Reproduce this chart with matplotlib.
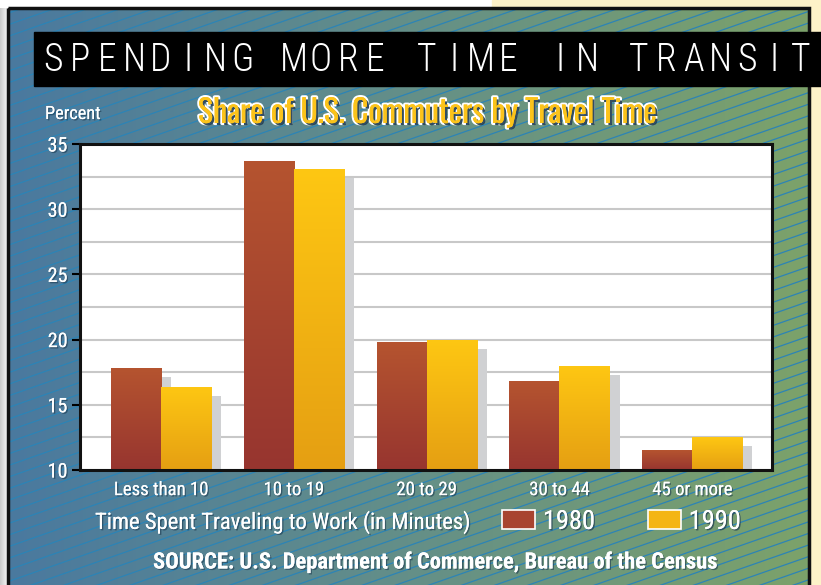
import numpy as np
import matplotlib
matplotlib.use("Agg")
import matplotlib.pyplot as plt
import matplotlib.patheffects as pe
from matplotlib.colors import LinearSegmentedColormap
from matplotlib.patches import Rectangle
import logging
logging.getLogger("matplotlib.font_manager").setLevel(logging.ERROR)

COND = ['Roboto Condensed', 'Archivo Narrow', 'PT Sans Narrow', 'Barlow Condensed',
        'Sofia Sans Condensed', 'Sofia Sans Semi Condensed', 'DejaVu Sans']
TIGHT = ['Oswald', 'Antonio', 'Fjalla One', 'League Gothic', 'Roboto Condensed',
         'Sofia Sans Semi Condensed', 'DejaVu Sans']
plt.rcParams['font.family'] = COND

# data
categories = ["Less than 10", "10 to 19", "20 to 29", "30 to 44", "45 or more"]
share_1980 = [17.8, 33.7, 19.8, 16.8, 11.5]
share_1990 = [16.4, 33.1, 20.0, 18.0, 12.5]
years = ["1980", "1990"]
y_ticks = [10, 15, 20, 25, 30, 35]

W, H = 821, 585
fig = plt.figure(figsize=(W / 100, H / 100), dpi=100)

# background: page, panel gradient and stripes
bg = fig.add_axes([0, 0, 1, 1])
bg.axis("off")
bg.add_patch(Rectangle((0, 0), W, H, color="white", zorder=0))
bg.add_patch(Rectangle((492, 0), W - 492, H, color="#fdf2c8", zorder=0))
shade = np.linspace(0.80, 0.97, 8)[None, :, None] * np.ones((1, 1, 3))
bg.imshow(shade, extent=(0, 8, H, 8), aspect="auto", zorder=0.5)
panel_cmap = LinearSegmentedColormap.from_list("panel", ["#4a799f", "#648f88", "#7ca26a"])
bg.imshow(np.linspace(0, 1, 256)[None, :], cmap=panel_cmap, extent=(8, 809, H, 8),
          aspect="auto", zorder=1)
panel = Rectangle((8, 8), 801, H, fill=False, ec="#111111", lw=2.5, zorder=2)
bg.add_patch(panel)
xs = np.array([8, 809])
for c in np.arange(-300, 900, 11.6):
    ln, = bg.plot(xs, c - 0.35 * (xs - 8), color="#2c84b6", lw=0.9, zorder=1.5,
                  solid_capstyle="butt")
    ln.set_clip_path(panel)
bg.set_xlim(0, W)
bg.set_ylim(H, 0)

# title bar
bg.add_patch(Rectangle((34, 32), W, 54, color="black", zorder=3))
title = "SPENDING MORE TIME IN TRANSIT"
x = 53
for ch in title:
    if ch == " ":
        x += 25
        continue
    bg.text(x, 60, ch, color="white", fontsize=27, fontweight="light", va="center",
            ha="center", zorder=4, fontfamily=COND)
    x += 27

fx_small = [pe.withSimplePatchShadow(offset=(1, -1), shadow_rgbFace="#1d3a50", alpha=0.6), pe.Normal()]
sub = bg.text(427, 113, "Share of U.S. Commuters by Travel Time", color="#fbc31b", fontsize=24,
              fontweight="bold", ha="center", va="center", zorder=4, fontfamily=TIGHT,
              path_effects=[pe.withStroke(linewidth=3, foreground="white"),
                            pe.withSimplePatchShadow(offset=(1.5, -1.5), shadow_rgbFace="#1d3a50", alpha=0.9),
                            pe.Normal()])
pct = bg.text(45, 114, "Percent", color="white", fontsize=14, ha="left", va="center",
              zorder=4, path_effects=fx_small)
xlab = bg.text(95, 522, "Time Spent Traveling to Work (in Minutes)", color="white", fontsize=17,
               ha="left", va="center", zorder=4, path_effects=fx_small)
src = bg.text(153, 562, "SOURCE: U.S. Department of Commerce, Bureau of the Census", color="white",
              fontsize=14, fontweight="bold", ha="left", va="center", zorder=4, path_effects=fx_small)

# chart
ax = fig.add_axes([80 / W, 1 - 470 / H, (772 - 80) / W, (470 - 144) / H])
ax.set_facecolor("white")
pos = np.arange(len(categories))
width = 0.377
bar_shadow = [pe.SimplePatchShadow(offset=(7.2, -6.5), shadow_rgbFace="#d0d1d3", alpha=1.0), pe.Normal()]
b80 = ax.bar(pos - width / 2, np.array(share_1980) - 10, width, bottom=10, color="#a84430",
             label=years[0], zorder=2, path_effects=bar_shadow)
b90 = ax.bar(pos + width / 2, np.array(share_1990) - 10, width, bottom=10, color="#f4b514",
             label=years[1], zorder=2, path_effects=bar_shadow)

grad80 = LinearSegmentedColormap.from_list("g80", ["#b5542f", "#973530"])
grad90 = LinearSegmentedColormap.from_list("g90", ["#fec713", "#e59f12"])
grad = np.linspace(0, 1, 128)[:, None]
for bars, cm in ((b80, grad80), (b90, grad90)):
    for b in bars:
        x0, y0 = b.get_x(), b.get_y()
        w, h = b.get_width(), b.get_height()
        im = ax.imshow(grad, cmap=cm, extent=(x0, x0 + w, y0, y0 + h), aspect="auto",
                       zorder=2.5, origin="upper")
        im.set_clip_path(b)

ax.set_xlim(-0.61, 4.60)
ax.set_ylim(10, 35)
ax.set_yticks(y_ticks)
ax.set_yticks(np.arange(10, 35.1, 2.5), minor=True)
ax.yaxis.grid(True, which="both", color="#c8c8c8", lw=1.5, zorder=0)
ax.set_axisbelow(True)
ax.set_xticks(pos)
ax.set_xticklabels(categories)
ax.tick_params(axis="x", length=0, pad=8, labelsize=13.5, colors="white")
ax.tick_params(axis="y", which="major", length=6, width=1.5, color="black", direction="out",
               labelsize=14.5, labelcolor="white", pad=3)
ax.tick_params(axis="y", which="minor", length=0)
for lab in ax.get_xticklabels() + ax.get_yticklabels():
    lab.set_path_effects(fx_small)
for s in ax.spines.values():
    s.set_color("#111111")
    s.set_linewidth(2.2)

leg = ax.legend(loc="center left", bbox_to_anchor=(502 / W, 1 - 522 / H),
                bbox_transform=fig.transFigure, ncol=2, frameon=False, fontsize=19,
                handlelength=1.25, handleheight=0.75, columnspacing=2.0, handletextpad=0.3,
                borderpad=0, borderaxespad=0)
for hnd in leg.legend_handles:
    hnd.set_edgecolor("white")
    hnd.set_linewidth(1.2)
    hnd.set_path_effects([])
for t in leg.get_texts():
    t.set_color("white")
    t.set_path_effects([pe.withSimplePatchShadow(offset=(1, -1), shadow_rgbFace="#1d3a50", alpha=0.7), pe.Normal()])

# scale the long labels to the widths they take in the original
fig.canvas.draw()
r = fig.canvas.get_renderer()
for t, target in ((sub, 459), (pct, 56), (xlab, 375), (src, 567)):
    wpx = t.get_window_extent(r).width
    t.set_fontsize(t.get_fontsize() * target / wpx)

fig.savefig("out.png", dpi=100)
